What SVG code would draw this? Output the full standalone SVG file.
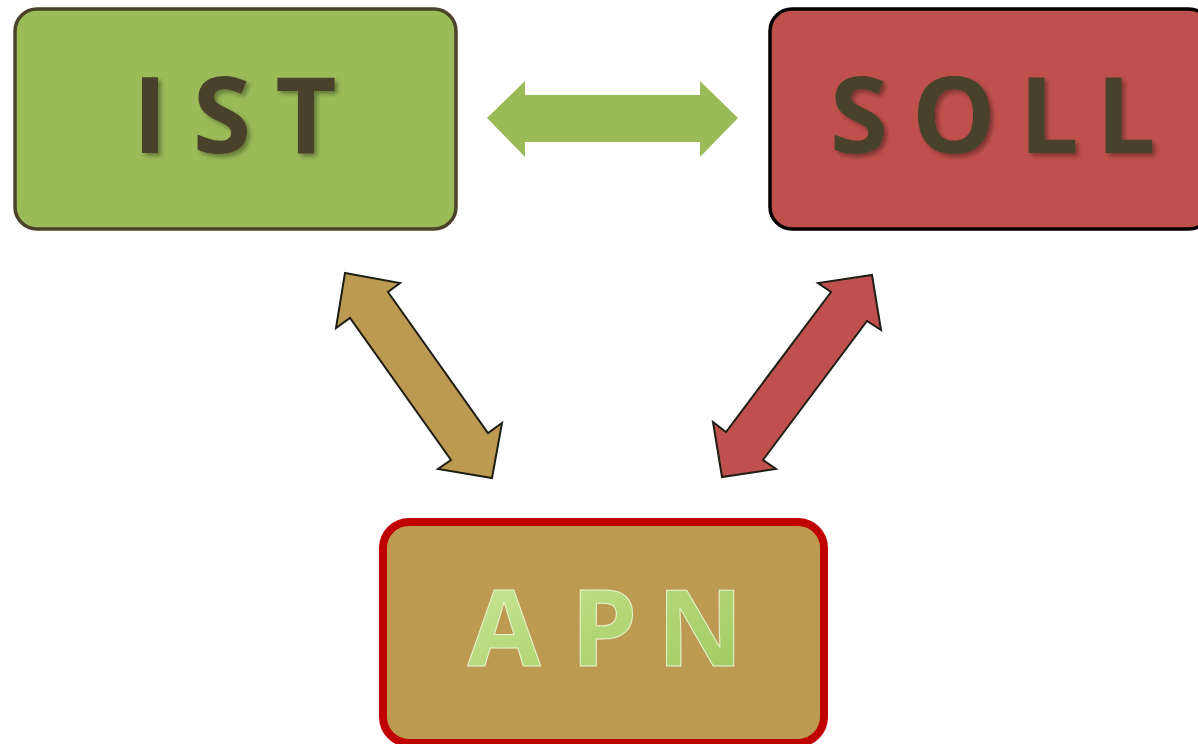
<svg xmlns="http://www.w3.org/2000/svg" width="1198" height="744" viewBox="0 0 1198 744">
<defs>
<filter id="sh" x="-20%" y="-20%" width="140%" height="140%">
<feDropShadow dx="3" dy="3" stdDeviation="2" flood-color="#000" flood-opacity="0.35"/>
</filter>
<linearGradient id="gl" x1="0" y1="0" x2="1" y2="1">
<stop offset="0" stop-color="#cfe99c"/>
<stop offset="0.5" stop-color="#b3d777"/>
<stop offset="1" stop-color="#9cc862"/>
</linearGradient>
</defs>
<style>
.lbl{font-family:"Open Sans","DejaVu Sans",sans-serif;font-weight:bold;font-size:106px;text-anchor:middle}
.dark{fill:#4a4229;filter:url(#sh)}
.light{fill:url(#gl);stroke:#e6f5c8;stroke-width:1}
.arr{stroke:#1e1e14;stroke-width:2;stroke-linejoin:miter}
</style>
<g id="connectors">
<polygon points="487,118 525,81 525,95 700,95 700,81 738,118 700,157 700,142 525,142 525,157" fill="#9bbb59"/>
<polygon class="arr" fill="#bd9a52" points="345,273 400,283 388,292 488,433 502,423 492,478 438,469 451,460 350,318 336,328"/>
<polygon class="arr" fill="#c0504d" points="872,275 881,330 867,321 763,460 776,469 722,477 713,422 726,432 831,292 818,283"/>
</g>
<g id="ist">
<rect x="15" y="9" width="441" height="220" rx="22" fill="#9bbb59" stroke="#4a4229" stroke-width="3.5"/>
<text class="lbl dark" y="153"><tspan x="150">I</tspan><tspan x="222">S</tspan><tspan x="306">T</tspan></text>
</g>
<g id="soll">
<rect x="770" y="9" width="441" height="220" rx="22" fill="#c0504d" stroke="#000" stroke-width="3.5"/>
<text class="lbl dark" y="153"><tspan x="859">S</tspan><tspan x="954">O</tspan><tspan x="1049">L</tspan><tspan x="1126">L</tspan></text>
</g>
<g id="apn">
<rect x="383" y="522" width="441" height="221" rx="26" fill="#bd9a52" stroke="#c00000" stroke-width="8"/>
<text class="lbl light" y="666"><tspan x="504">A</tspan><tspan x="604">P</tspan><tspan x="700">N</tspan></text>
</g>
</svg>
